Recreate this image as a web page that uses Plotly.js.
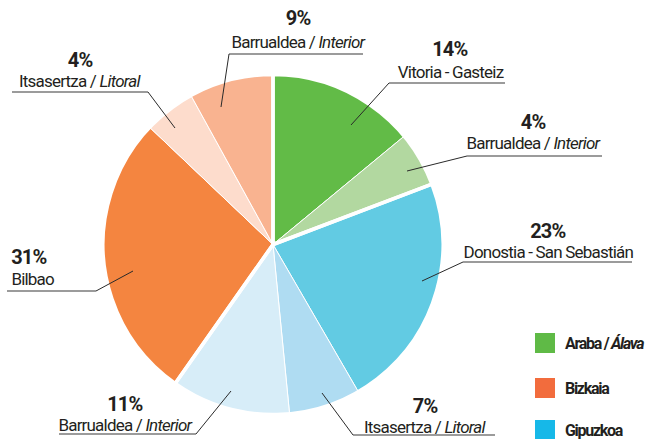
<!DOCTYPE html>
<html><head><meta charset="utf-8">
<script src="https://cdn.plot.ly/plotly-3.0.1.min.js"></script>
<style>html,body{margin:0;padding:0;background:#fff}#c{width:647px;height:439px}
#c text{letter-spacing:-0.8px;}</style>
</head><body><div id="c"></div>
<script>
// ---- data ----
const sliceNames = ['Vitoria - Gasteiz','Barrualdea / <i>Interior</i>','Donostia - San Sebastián','Itsasertza / <i>Litoral</i>','Barrualdea / <i>Interior</i>','Bilbao','Itsasertza / <i>Litoral</i>','Barrualdea / <i>Interior</i>'];
const sliceIds = ['A-Vitoria','A-Interior','G-Donostia','G-Litoral','G-Interior','B-Bilbao','B-Litoral','B-Interior'];
const sliceProvince = ['Araba','Araba','Gipuzkoa','Gipuzkoa','Gipuzkoa','Bizkaia','Bizkaia','Bizkaia'];
const sliceValues = [14, 5.2, 22.4, 6.8, 11.3, 27.3, 4.9, 8.0];
const pctLabels = ['14%','4%','23%','7%','11%','31%','4%','9%'];
const provinces = ['Araba','Gipuzkoa','Bizkaia'];
const legendNames = ['Araba / <i>Álava</i>','Bizkaia','Gipuzkoa'];

// ---- styles ----
const sliceColors = ['#62bb47','#b2d8a0','#62cbe3','#afdcf2','#d7edf8','#f48540','#fddccc','#f9b390'];
const legendColors = ['#5fba46','#f26c3d','#16b8e8'];
const W = 647, H = 439;
const FONT = 'Roboto, "Liberation Sans", sans-serif';
// label layout (pixels): pct pos, name pos, anchor, underline x0,x1,y, leader end
const labelLayout = [
  {px:450,py:49,ny:72,anchor:'center',u0:389,u1:505,uy:83,lx:389,ly:83,ex:351,ey:125},
  {px:533,py:122,ny:143,anchor:'center',u0:467,u1:602,uy:156,lx:467,ly:156,ex:407,ey:171},
  {px:548,py:231,ny:252,anchor:'center',u0:463,u1:632,uy:262,lx:463,ly:262,ex:422,ey:281},
  {px:425,py:406,ny:427,anchor:'center',u0:353,u1:495,uy:435,lx:353,ly:435,ex:322,ey:393},
  {px:125,py:404,ny:425,anchor:'center',u0:59,u1:196,uy:434,lx:196,ly:434,ex:231,ey:391},
  {px:8,py:257,ny:279,anchor:'left',u0:7,u1:96,uy:291,lx:96,ly:291,ex:133,ey:271},
  {px:80,py:60,ny:81,anchor:'center',u0:12,u1:148,uy:92,lx:148,ly:92,ex:175,ey:128},
  {px:298,py:18,ny:42,anchor:'center',u0:229,u1:363,uy:54,lx:229,ly:54,ex:221,ey:107}
];

const cx = 273, cy = 244.5, R = 170;
const domain = {x:[(cx-R)/W,(cx+R)/W], y:[(H-cy-R)/H,(H-cy+R)/H]};

const provValues = provinces.map(p => sliceValues.reduce((s,v,i)=> s + (sliceProvince[i]===p ? v : 0), 0));

const px = x => x / W, py = y => 1 - y / H;

const traces = [
  {type:'pie', values:sliceValues, labels:sliceIds, sort:false, direction:'clockwise', rotation:0,
   marker:{colors:sliceColors, line:{color:'#ffffff', width:1}}, textinfo:'none', hoverinfo:'skip',
   domain:domain, showlegend:false},
  {type:'pie', values:provValues, labels:provinces, sort:false, direction:'clockwise', rotation:0,
   marker:{colors:['rgba(0,0,0,0)','rgba(0,0,0,0)','rgba(0,0,0,0)'], line:{color:'#ffffff', width:3.5}},
   textinfo:'none', hoverinfo:'skip', domain:domain, showlegend:false}
];

const annotations = [], shapes = [];
labelLayout.forEach((L,i) => {
  const xa = L.anchor;
  annotations.push({xref:'paper',yref:'paper',x:px(L.px),y:py(L.py),xanchor:xa,yanchor:'middle',showarrow:false,
    text:'<b>'+pctLabels[i]+'</b>', font:{family:FONT,size:20,color:'#231f20'}});
  annotations.push({xref:'paper',yref:'paper',x:px(xa==='left'?L.px-1:L.px),y:py(L.ny),xanchor:xa,yanchor:'middle',showarrow:false,
    text:sliceNames[i], font:{family:FONT,size:17,color:'#231f20'}});
  shapes.push({type:'line',xref:'paper',yref:'paper',x0:px(L.u0),x1:px(L.u1),y0:py(L.uy),y1:py(L.uy),line:{color:'#7a7a7a',width:1.6}});
  shapes.push({type:'line',xref:'paper',yref:'paper',x0:px(L.lx),x1:px(L.ex),y0:py(L.ly),y1:py(L.ey),line:{color:'#2a2a2a',width:1}});
});
// legend
const legY = [343, 388, 430];
legendNames.forEach((n,i) => {
  shapes.push({type:'rect',xref:'paper',yref:'paper',x0:px(535),x1:px(555),y0:py(legY[i]-10),y1:py(legY[i]+10),fillcolor:legendColors[i],line:{width:0}});
  annotations.push({xref:'paper',yref:'paper',x:px(564),y:py(legY[i]),xanchor:'left',yanchor:'middle',showarrow:false,
    borderpad:0, text:'<span style="letter-spacing:-1.3px"><b>'+n+'</b></span>', font:{family:FONT,size:16,color:'#231f20'}});
});

Plotly.newPlot('c', traces, {
  width:W, height:H, margin:{l:0,r:0,t:0,b:0}, paper_bgcolor:'#fff', plot_bgcolor:'#fff',
  showlegend:false, annotations:annotations, shapes:shapes
}, {displayModeBar:false, staticPlot:true});
</script></body></html>
